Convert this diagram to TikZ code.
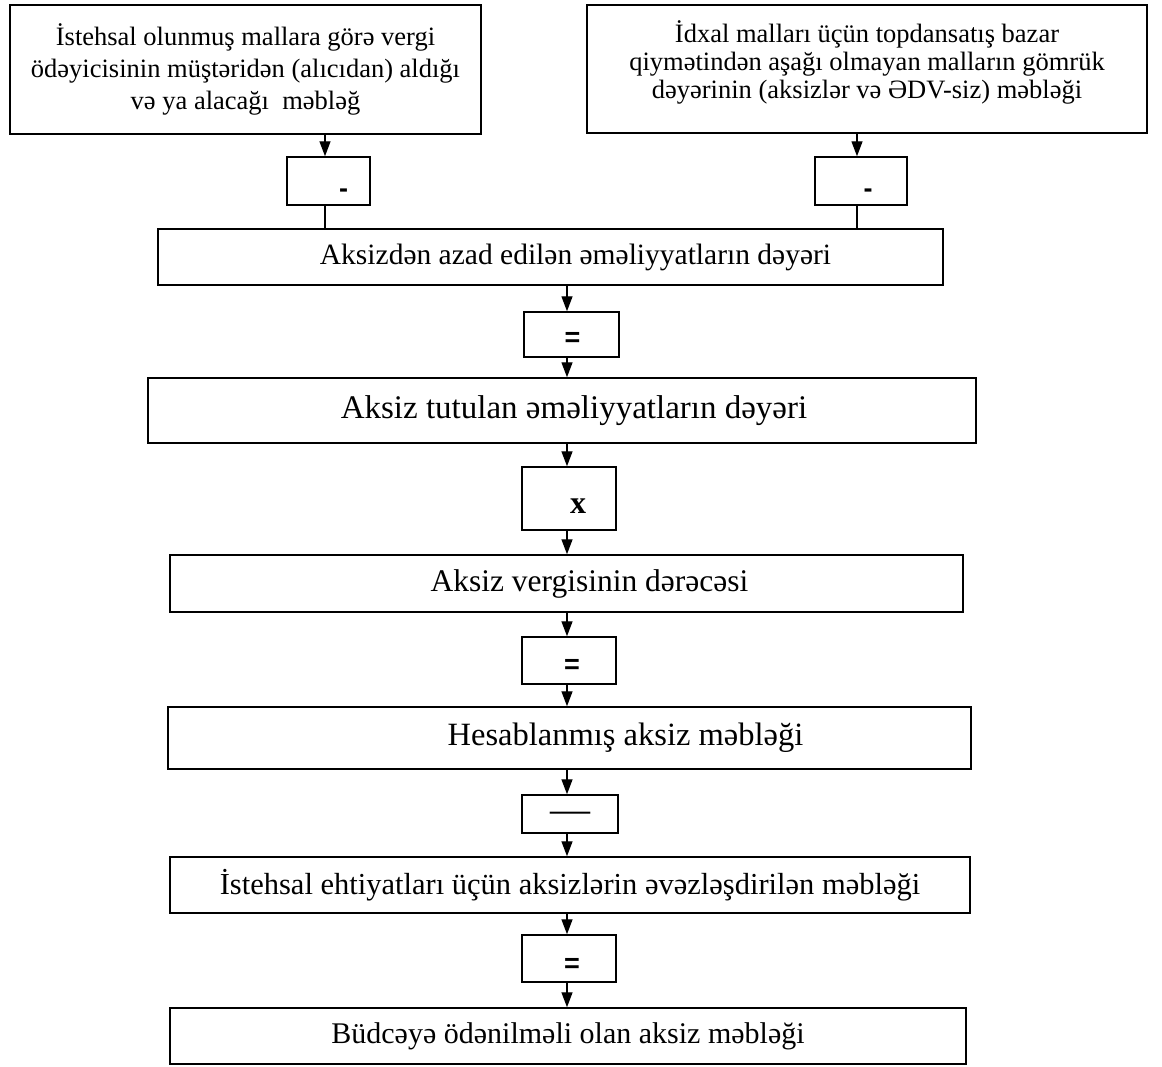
\documentclass[tikz,border=0pt]{standalone}
\usepackage{fontspec}
\setmainfont{Liberation Serif}
\newfontfamily\opsans{Liberation Sans}
\usetikzlibrary{arrows.meta}

\begin{document}
\begin{tikzpicture}[x=1pt,y=-1pt,
  box/.style={draw, line width=1.5pt, inner sep=0pt, align=center},
  opbox/.style={draw, line width=1.5pt, inner sep=0pt},
  opsym/.style={font=\opsans\bfseries\fontsize{27}{27}\selectfont, inner sep=0pt},
  arr/.style={line width=1.4pt, -{Triangle[length=15pt,width=11pt]}},
  link/.style={line width=1.4pt}]
  \useasboundingbox (0,0) rectangle (1162,1066);

  % columns of the connectors
  \coordinate (lc) at (325,0);
  \coordinate (rc) at (857,0);
  \coordinate (mc) at (567,0);

  % two source amounts
  \node[box, minimum width=471pt, minimum height=129pt,
        font=\fontsize{26.5}{32}\selectfont] (tl) at (245.5,69.5)
    {İstehsal olunmuş mallara görə vergi\\
     ödəyicisinin müştəridən (alıcıdan) aldığı\\
     və ya alacağı\ \ məbləğ};
  \node[box, minimum width=560pt, minimum height=128pt, text depth=18pt,
        font=\fontsize{26.5}{28}\selectfont] (tr) at (867,69)
    {İdxal malları üçün topdansatış bazar\\
     qiymətindən aşağı olmayan malların gömrük\\
     dəyərinin (aksizlər və ƏDV-siz) məbləği};

  % subtraction signs
  \node[opbox, minimum width=83pt, minimum height=48pt,
        label={[opsym, xshift=15pt, yshift=-12pt]center:-}] (op1) at (328.5,181) {};
  \node[opbox, minimum width=92pt, minimum height=48pt,
        label={[opsym, xshift=7pt, yshift=-12pt]center:-}] (op2) at (861,181) {};

  % chain of calculation
  \node[box, minimum width=785pt, minimum height=56pt,
        font=\fontsize{29.5}{32}\selectfont] (A) at (550.5,257)
    {\hspace*{50pt}Aksizdən azad edilən əməliyyatların dəyəri};
  \node[opbox, minimum width=95pt, minimum height=45pt,
        label={[opsym, xshift=1pt, yshift=-5pt]center:=}] (eq1) at (571.5,334.5) {};
  \node[box, minimum width=828pt, minimum height=65pt,
        font=\fontsize{33}{36}\selectfont] (B) at (562,410.5)
    {\hspace*{24pt}Aksiz tutulan əməliyyatların dəyəri};
  \node[opbox, minimum width=94pt, minimum height=63pt,
        label={[inner sep=0pt, font=\bfseries\fontsize{32}{32}\selectfont, xshift=9pt, yshift=-8pt]center:x}] (mul) at (569,498.5) {};
  \node[box, minimum width=793pt, minimum height=57pt,
        font=\fontsize{31.5}{34}\selectfont] (C) at (566.5,583.5)
    {\hspace*{46pt}Aksiz vergisinin dərəcəsi};
  \node[opbox, minimum width=94pt, minimum height=47pt,
        label={[opsym, xshift=3pt, yshift=-6pt]center:=}] (eq2) at (569,660.5) {};
  \node[box, minimum width=803pt, minimum height=62pt,
        font=\fontsize{32.5}{35}\selectfont] (D) at (569.5,738)
    {\hspace*{112pt}Hesablanmış aksiz məbləği};
  \node[opbox, minimum width=96pt, minimum height=38pt,
        label={[inner sep=0pt, font=\fontsize{40}{40}\selectfont, yshift=-3pt]center:—}] (dash) at (570,814) {};
  \node[box, minimum width=800pt, minimum height=56pt,
        font=\fontsize{30.5}{34}\selectfont] (E) at (570,885)
    {İstehsal ehtiyatları üçün aksizlərin əvəzləşdirilən məbləği};
  \node[opbox, minimum width=94pt, minimum height=47pt,
        label={[opsym, xshift=3pt, yshift=-7pt]center:=}] (eq3) at (569,958.5) {};
  \node[box, minimum width=796pt, minimum height=56pt,
        font=\fontsize{30}{33}\selectfont] (F) at (568,1036)
    {Büdcəyə ödənilməli olan aksiz məbləği};

  % connectors
  \draw[arr]  (tl.south -| lc) -- (op1.north -| lc);
  \draw[link] (op1.south -| lc) -- (A.north -| lc);
  \draw[arr]  (tr.south -| rc) -- (op2.north -| rc);
  \draw[link] (op2.south -| rc) -- (A.north -| rc);
  \draw[arr]  (A.south -| mc) -- (eq1.north -| mc);
  \draw[arr]  (eq1.south -| mc) -- (B.north -| mc);
  \draw[arr]  (B.south -| mc) -- (mul.north -| mc);
  \draw[arr]  (mul.south -| mc) -- (C.north -| mc);
  \draw[arr]  (C.south -| mc) -- (eq2.north -| mc);
  \draw[arr]  (eq2.south -| mc) -- (D.north -| mc);
  \draw[arr]  (D.south -| mc) -- (dash.north -| mc);
  \draw[arr]  (dash.south -| mc) -- (E.north -| mc);
  \draw[arr]  (E.south -| mc) -- (eq3.north -| mc);
  \draw[arr]  (eq3.south -| mc) -- (F.north -| mc);
\end{tikzpicture}
\end{document}
